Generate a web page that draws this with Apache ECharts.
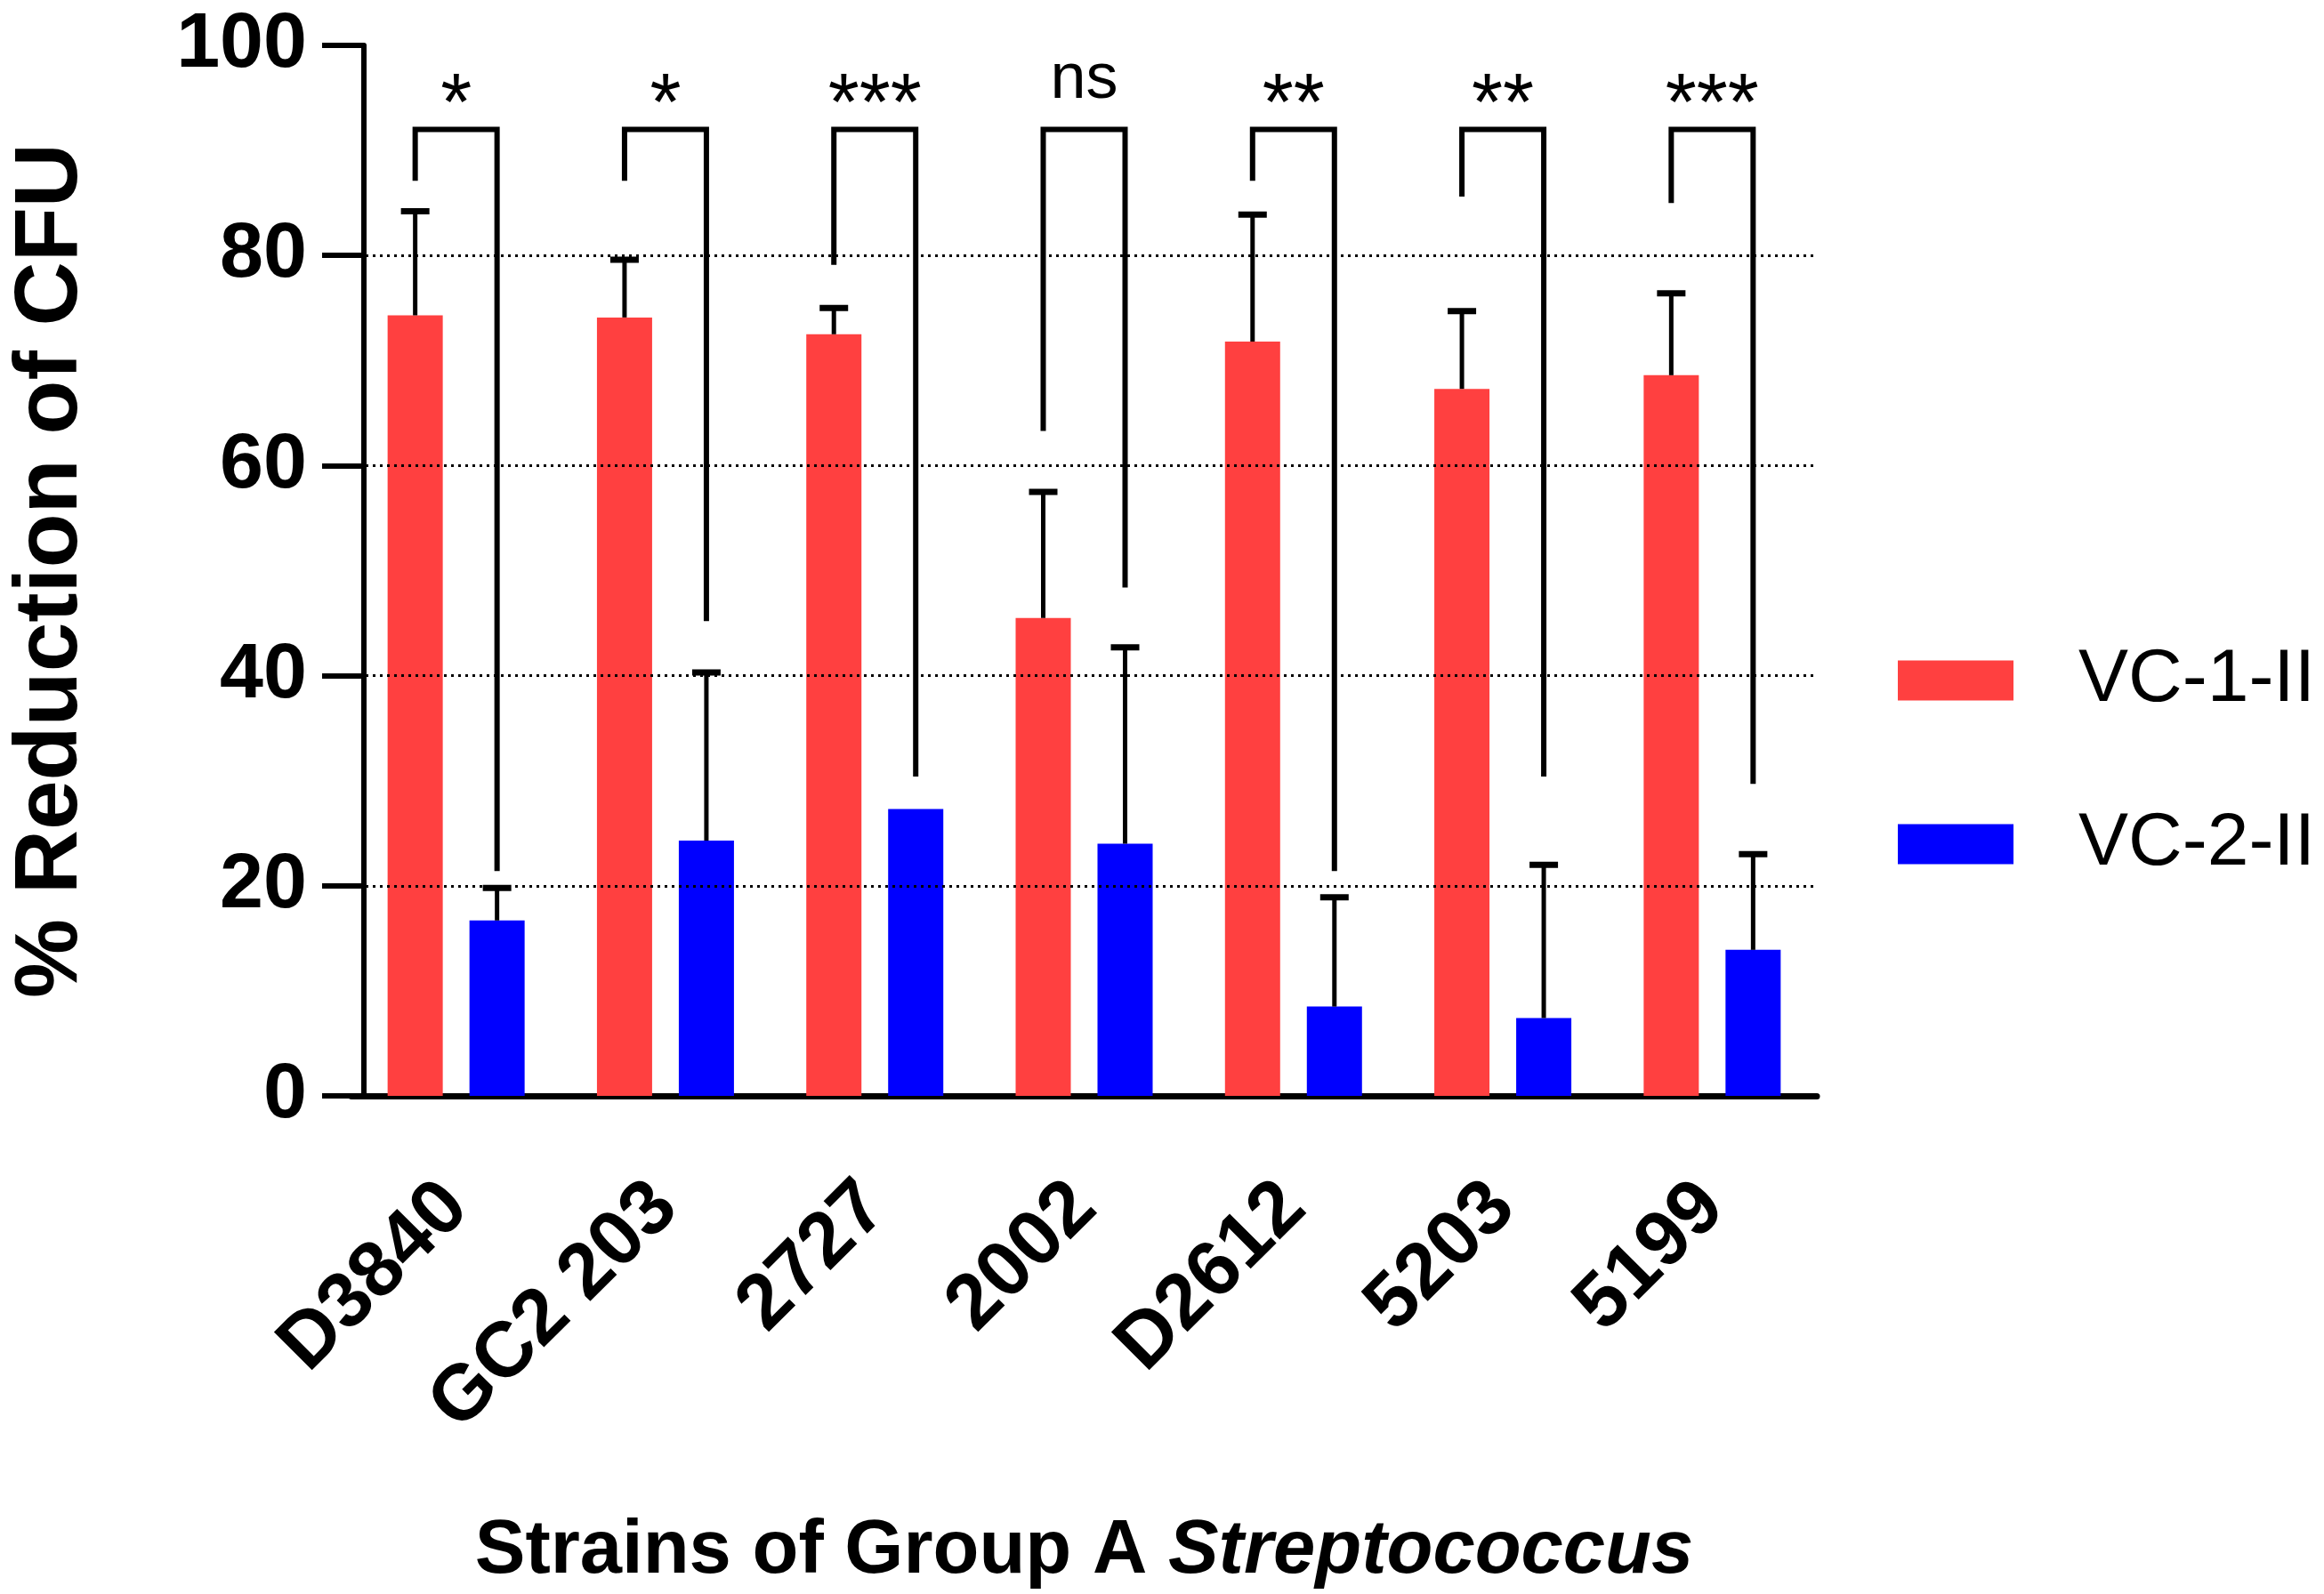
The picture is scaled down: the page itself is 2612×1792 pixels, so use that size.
<!DOCTYPE html>
<html lang="en">
<head>
    <meta charset="UTF-8">
    <title>% Reduction of CFU</title>
    <script src="https://cdn.jsdelivr.net/npm/echarts@6/dist/echarts.min.js"></script>
    <style>
        html, body { margin: 0; padding: 0; background: #fff; }
    </style>
</head>
<body>
<div id="chart" style="width:2612px;height:1792px;"></div>
<script>
    // strains (x categories)
    var strains = ['D3840', 'GC2 203', '2727', '2002', 'D2612', '5203', '5199'];

    // VC-1-II : mean and SD (only upper bar drawn)
    var vc1Mean = [74.3, 74.1, 72.5, 45.5, 71.8, 67.3, 68.6];
    var vc1Sd   = [9.9, 5.5, 2.5, 12.0, 12.1, 7.4, 7.8];

    // VC-2-II
    var vc2Mean = [16.7, 24.3, 27.3, 24.0, 8.5, 7.4, 13.9];
    var vc2Sd   = [3.1, 16.0, 0, 18.7, 10.4, 14.6, 9.1];

    // significance brackets: left leg end, right leg end, top, label
    var bracketLeft  = [87.1, 87.1, 79.1, 63.3, 87.1, 85.6, 85.0];
    var bracketRight = [21.4, 45.2, 30.4, 48.4, 21.4, 30.4, 29.7];
    var bracketTop   = [92, 92, 92, 92, 92, 92, 92];
    var sigLabels    = ['*', '*', '***', 'ns', '**', '**', '***'];

    var yTicks = [0, 20, 40, 60, 80, 100];
    var gridLines = [20, 40, 60, 80];

    var RED = '#FF4040';
    var BLUE = '#0000FF';
    var BAR_W = 62;
    var BAR_GAP = 30;
    var HALF = (BAR_W + BAR_GAP) / 2;   // distance bar centre -> category centre
    var FONT = '"Liberation Sans", Arial, sans-serif';

    var chart = echarts.init(document.getElementById('chart'), null, {renderer: 'canvas'});

    function errorSeries(means, sds, side) {
        var data = [];
        for (var i = 0; i < means.length; i++) {
            data.push([i, means[i], sds[i]]);
        }
        return {
            type: 'custom',
            z: 5,
            silent: true,
            encode: {x: 0, y: 1},
            data: data,
            renderItem: function (params, api) {
                var i = api.value(0), m = api.value(1), sd = api.value(2);
                if (!sd) return;
                var base = api.coord([i, m]);
                var top = api.coord([i, m + sd]);
                var x = base[0] + side * HALF;
                return {
                    type: 'group',
                    children: [
                        {type: 'line', shape: {x1: x, y1: base[1], x2: x, y2: top[1]},
                            style: {stroke: '#000', lineWidth: 5}},
                        {type: 'line', shape: {x1: x - 16, y1: top[1], x2: x + 16, y2: top[1]},
                            style: {stroke: '#000', lineWidth: 7}}
                    ]
                };
            }
        };
    }

    var bracketData = [];
    for (var i = 0; i < strains.length; i++) {
        bracketData.push([i, bracketTop[i], bracketLeft[i], bracketRight[i]]);
    }

    var options = {
        backgroundColor: '#fff',
        animation: false,
        grid: {left: 358, right: 570, top: 51, height: 1207, containLabel: false},
        legend: {
            orient: 'vertical',
            left: 2133,
            top: 723,
            padding: 0,
            icon: 'rect',
            itemWidth: 130,
            itemHeight: 45,
            itemGap: 100,
            data: ['VC-1-II', 'VC-2-II'],
            textStyle: {
                fontFamily: FONT, fontSize: 84, color: '#000',
                padding: [0, 0, 0, 68]
            }
        },
        xAxis: {
            type: 'category',
            data: strains,
            name: '{a|Strains of Group A }{b|Streptococcus}',
            nameLocation: 'middle',
            nameGap: 470,
            nameTextStyle: {
                rich: {
                    a: {fontFamily: FONT, fontSize: 85, fontWeight: 'bold', color: '#000'},
                    b: {fontFamily: FONT, fontSize: 85, fontWeight: 'bold', fontStyle: 'italic', color: '#000'}
                }
            },
            axisLine: {lineStyle: {color: '#000', width: 7}},
            axisTick: {alignWithLabel: true, length: 49, lineStyle: {color: '#000', width: 6}},
            axisLabel: {
                rotate: 45, interval: 0, margin: 112,
                fontFamily: FONT, fontSize: 88, fontWeight: 'bold', color: '#000'
            },
            splitLine: {show: false}
        },
        yAxis: {
            type: 'value',
            min: yTicks[0],
            max: yTicks[yTicks.length - 1],
            interval: 20,
            offset: -14,
            name: '% Reduction of CFU',
            nameLocation: 'middle',
            nameGap: 301,
            nameTextStyle: {fontFamily: FONT, fontSize: 100, fontWeight: 'bold', color: '#000'},
            axisLine: {show: true, lineStyle: {color: '#000', width: 6}},
            axisTick: {show: true, length: 47, lineStyle: {color: '#000', width: 6}},
            axisLabel: {margin: 64, fontFamily: FONT, fontSize: 88, fontWeight: 'bold', color: '#000'},
            splitLine: {show: false}
        },
        series: [
            {
                // dotted grid lines at 20..80
                type: 'line',
                data: [],
                z: 1,
                silent: true,
                markLine: {
                    silent: true,
                    symbol: ['none', 'none'],
                    label: {show: false},
                    lineStyle: {color: '#000', width: 3, type: [3, 5]},
                    data: gridLines.map(function (v) { return {yAxis: v}; })
                }
            },
            {
                name: 'VC-1-II',
                type: 'bar',
                z: 2,
                barWidth: BAR_W,
                barGap: (BAR_GAP / BAR_W * 100) + '%',
                itemStyle: {color: RED},
                data: vc1Mean
            },
            {
                name: 'VC-2-II',
                type: 'bar',
                z: 2,
                barWidth: BAR_W,
                itemStyle: {color: BLUE},
                data: vc2Mean
            },
            errorSeries(vc1Mean, vc1Sd, -1),
            errorSeries(vc2Mean, vc2Sd, 1),
            {
                type: 'custom',
                z: 6,
                silent: true,
                encode: {x: 0, y: 1},
                data: bracketData,
                renderItem: function (params, api) {
                    var i = api.value(0);
                    var top = api.coord([i, api.value(1)]);
                    var lb = api.coord([i, api.value(2)]);
                    var rb = api.coord([i, api.value(3)]);
                    var xl = top[0] - HALF, xr = top[0] + HALF;
                    var lab = sigLabels[params.dataIndex];
                    var isNs = lab === 'ns';
                    return {
                        type: 'group',
                        children: [
                            {
                                type: 'polyline',
                                shape: {points: [[xl, lb[1]], [xl, top[1]], [xr, top[1]], [xr, rb[1]]]},
                                style: {stroke: '#000', lineWidth: 6, fill: null, lineJoin: 'miter'}
                            },
                            {
                                type: 'text',
                                x: top[0],
                                y: top[1] - (isNs ? 55 : 24),
                                style: {
                                    text: lab,
                                    fill: '#000',
                                    font: (isNs ? 72 : 90) + 'px ' + FONT,
                                    textAlign: 'center',
                                    textVerticalAlign: 'middle'
                                }
                            }
                        ]
                    };
                }
            }
        ]
    };
    chart.setOption(options);
</script>
</body>
</html>
